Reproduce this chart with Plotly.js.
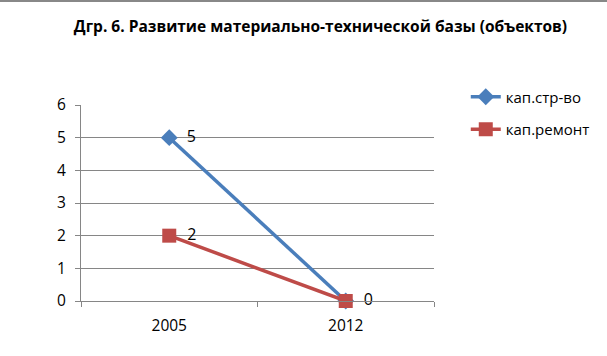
<!DOCTYPE html>
<html><head><meta charset="utf-8">
<script src="https://cdn.plot.ly/plotly-3.0.1.min.js"></script>
<style>html,body{margin:0;padding:0;background:#fff}#c{width:607px;height:356px}</style>
</head><body><div id="c"></div>
<script>
const categories = ['2005', '2012'];
const seriesNames = ['кап.стр-во', 'кап.ремонт'];
const capBuild = [5, 0];
const capRepair = [2, 0];
const titleText = 'Дгр. 6. Развитие материально-технической базы (объектов)';

const font = 'Open Sans, Liberation Sans, sans-serif';
const pad = '\u00a0\u00a0';
// blue label hidden where it coincides with the red one (as in the original)
const blueText = capBuild.map((v, i) => v === capRepair[i] ? '' : pad + v);
const redText = capRepair.map(v => pad + v);
const traces = [
  {x: categories, y: capBuild, name: seriesNames[0], type: 'scatter', mode: 'lines+markers+text',
   text: blueText, textposition: 'middle right', cliponaxis: false,
   textfont: {family: font, size: 16, color: '#000'},
   line: {color: '#4A7EBB', width: 3.5}, marker: {symbol: 'diamond', size: 13, color: '#4A7EBB'},
   legendgroup: 'a'},
  {x: categories, y: capRepair, name: seriesNames[1], type: 'scatter', mode: 'lines+markers+text',
   text: redText, textposition: 'middle right', cliponaxis: false,
   textfont: {family: font, size: 16, color: '#000'},
   line: {color: '#BE4B48', width: 3.5}, marker: {symbol: 'square', size: 14, color: '#BE4B48'},
   legendgroup: 'b'}
];
const layout = {
  width: 607, height: 356,
  margin: {l: 81, r: 169, t: 105, b: 55},
  paper_bgcolor: '#fff', plot_bgcolor: '#fff',
  title: {text: '<b>' + titleText + '</b>', font: {family: font, size: 15.5, color: '#000'},
          x: 0.528, xanchor: 'center', y: 0.925, yanchor: 'middle'},
  xaxis: {type: 'category', range: [-0.5, 1.5], showgrid: false, showline: true,
          linecolor: '#868686', linewidth: 1, ticks: 'outside', tickson: 'boundaries',
          ticklen: 5, tickcolor: '#868686', ticklabelstandoff: 10,
          tickfont: {family: font, size: 15.5, color: '#000'}, zeroline: false, fixedrange: true},
  yaxis: {range: [0, 6], dtick: 1, showgrid: true, gridcolor: '#868686', gridwidth: 1,
          showline: true, linecolor: '#868686', ticks: 'outside', ticklen: 5, tickcolor: '#868686',
          ticklabelstandoff: 6,
          tickfont: {family: font, size: 15.5, color: '#000'}, zeroline: false, fixedrange: true},
  showlegend: true,
  legend: {x: 1.09, xanchor: 'left', y: 1.125, yanchor: 'top', tracegroupgap: 10,
           font: {family: font, size: 15, color: '#000'}, bgcolor: 'rgba(0,0,0,0)'},
  shapes: [{type: 'line', xref: 'paper', yref: 'paper', x0: -0.3, x1: 1.6, y0: 1.53, y1: 1.53,
            line: {color: '#888', width: 2}}]
};
Plotly.newPlot('c', traces, layout, {displayModeBar: false, staticPlot: true});
</script></body></html>
